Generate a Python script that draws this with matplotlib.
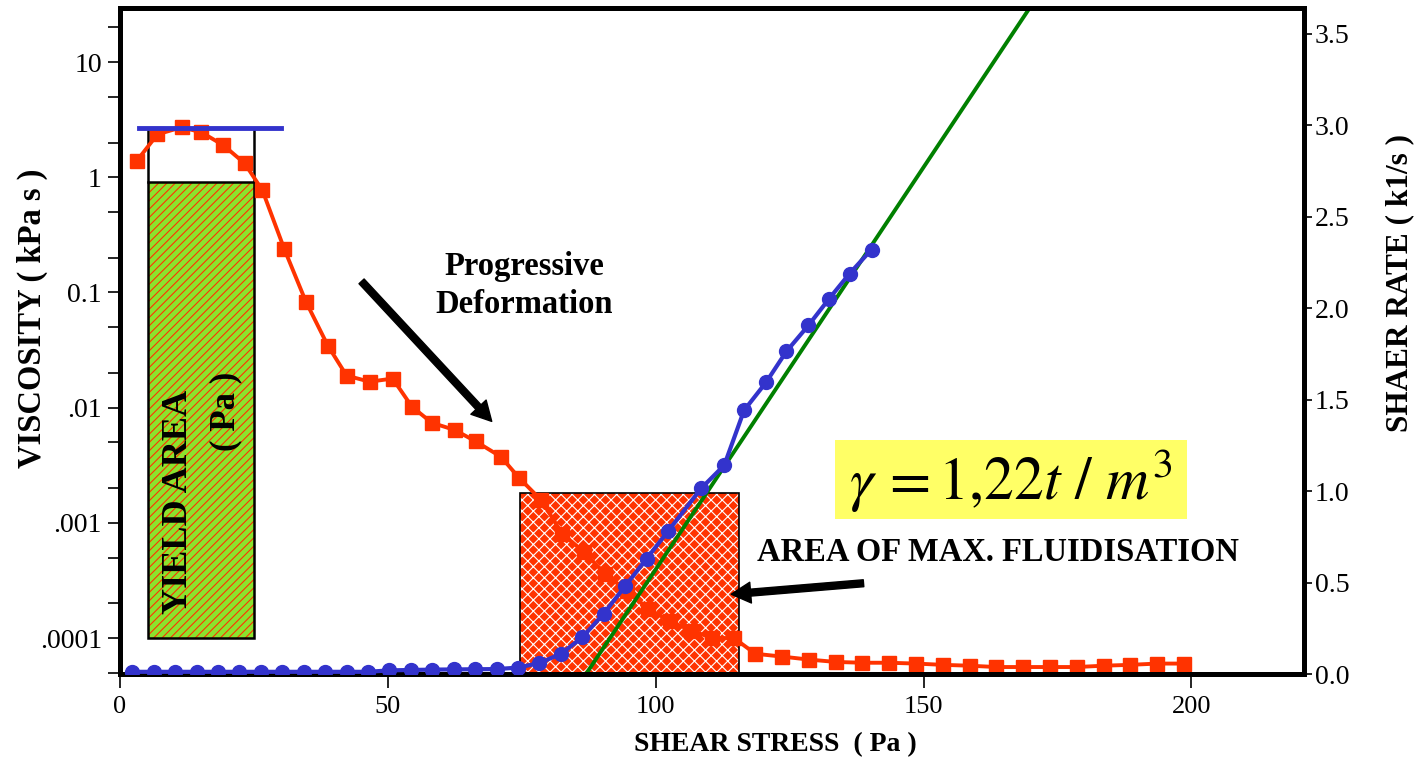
import matplotlib
matplotlib.use('Agg')
import matplotlib.pyplot as plt
from matplotlib.patches import Rectangle
from matplotlib.ticker import NullFormatter

plt.rcParams['font.family'] = ['Liberation Serif', 'DejaVu Serif']
plt.rcParams['mathtext.fontset'] = 'stix'
plt.rcParams['hatch.linewidth'] = 0.8

# viscosity (kPa s) against shear stress (Pa)
visc_x = [3.1, 7.0, 11.5, 15.2, 19.3, 23.3, 26.6, 30.7, 34.7, 38.8,
          42.3, 46.6, 50.9, 54.5, 58.2, 62.5, 66.4, 71.1, 74.5, 78.6,
          82.6, 86.6, 90.6, 94.6, 98.6, 102.6, 106.6, 110.6, 114.6,
          118.6, 123.6, 128.6, 133.6, 138.6, 143.6, 148.6, 153.6, 158.6,
          163.6, 168.6, 173.6, 178.6, 183.6, 188.6, 193.6, 198.6]
visc_y = [1.38, 2.36, 2.72, 2.46, 1.90, 1.32, 0.77, 0.237, 0.0835, 0.0346,
          0.019, 0.0168, 0.0179, 0.0102, 0.0074, 0.0064, 0.0051, 0.00375, 0.00246, 0.00158,
          8.0e-4, 5.6e-4, 3.6e-4, 2.57e-4, 1.79e-4, 1.41e-4, 1.16e-4, 1.0e-4, 1.0e-4,
          7.3e-5, 6.9e-5, 6.5e-5, 6.2e-5, 6.1e-5, 6.1e-5, 6.0e-5, 5.85e-5, 5.75e-5,
          5.6e-5, 5.6e-5, 5.6e-5, 5.6e-5, 5.75e-5, 5.85e-5, 6.0e-5, 6.0e-5]

# shear rate (k1/s) against shear stress (Pa)
rate_x = [2.3, 6.3, 10.3, 14.3, 18.3, 22.3, 26.3, 30.3, 34.3, 38.3,
          42.3, 46.3, 50.3, 54.3, 58.3, 62.3, 66.3, 70.3, 74.3,
          78.3, 82.3, 86.3, 90.3, 94.3, 98.3, 102.3,
          108.5, 112.8, 116.5, 120.6, 124.4, 128.5, 132.4, 136.2, 140.3]
rate_y = [0.012, 0.012, 0.012, 0.012, 0.012, 0.012, 0.012, 0.012, 0.012, 0.012,
          0.012, 0.012, 0.02, 0.022, 0.024, 0.025, 0.026, 0.027, 0.035,
          0.06, 0.11, 0.2, 0.33, 0.48, 0.63, 0.78,
          1.015, 1.141, 1.441, 1.594, 1.763, 1.905, 2.052, 2.189, 2.320]

# linear fit of the flow branch
fit_x = [87.0, 169.8]
fit_y = [0.0, 3.64]

# yield plateau and marked areas
yield_level = 2.66
yield_line_x = [3.5, 30.0]
yield_box_x = [5.2, 25.0]
yield_fill_top = 0.91
yield_fill_bottom = 1e-4
fluid_box_x = [74.7, 115.6]
fluid_box_top = 0.988

visc_ticks = [10, 1, 0.1, 0.01, 0.001, 0.0001]
visc_tick_labels = ['10', '1', '0.1', '.01', '.001', '.0001']
visc_minor = [20, 5, 2, 0.5, 0.2, 0.05, 0.02, 0.005, 0.002,
              5e-4, 2e-4, 5e-5]
rate_ticks = [0.0, 0.5, 1.0, 1.5, 2.0, 2.5, 3.0, 3.5]
stress_ticks = [0, 50, 100, 150, 200]

RED = '#ff3300'
BLUE = '#3333cc'
GREEN = '#008000'

fig = plt.figure(figsize=(14.21, 7.58), dpi=100)
ax = fig.add_axes([0.0844, 0.1108, 0.8332, 0.8786])
ax2 = ax.twinx()

ax.set_yscale('log')
ax.set_xlim(0, 221)
ax.set_ylim(4.87e-5, 29.5)
ax2.set_ylim(0, 3.64)

# area of max. fluidisation (drawn in shear-rate units, under the curves)
ax.add_patch(Rectangle((fluid_box_x[0], 0), fluid_box_x[1] - fluid_box_x[0], fluid_box_top,
                       transform=ax2.transData, facecolor=RED, edgecolor='white',
                       hatch='xxx', lw=0, zorder=1))
ax.add_patch(Rectangle((fluid_box_x[0], 0), fluid_box_x[1] - fluid_box_x[0], fluid_box_top,
                       transform=ax2.transData, fill=False, edgecolor='black',
                       lw=1.2, zorder=1.1))

# yield area
w = yield_box_x[1] - yield_box_x[0]
ax.add_patch(Rectangle((yield_box_x[0], yield_fill_bottom), w, yield_fill_top - yield_fill_bottom,
                       facecolor='#8be32d', edgecolor=RED, hatch='////', lw=0, zorder=1))
ax.add_patch(Rectangle((yield_box_x[0], yield_fill_bottom), w, yield_level - yield_fill_bottom,
                       fill=False, edgecolor='black', lw=1.8, zorder=1.1))
ax.plot(yield_box_x, [yield_fill_top, yield_fill_top], color='black', lw=1.8, zorder=1.1)

ax.plot(visc_x, visc_y, color=RED, lw=2.8, marker='s', ms=10.5, mec=RED, zorder=3)
ax.plot(yield_line_x, [yield_level, yield_level], color=BLUE, lw=3.5, zorder=4)

ax2.plot(fit_x, fit_y, color=GREEN, lw=2.8, zorder=2)
ax2.plot(rate_x, rate_y, color=BLUE, lw=3, marker='o', ms=10, mec=BLUE, zorder=3)

# density box
ax2.add_patch(Rectangle((133.4, 0.846), 65.8, 0.431, facecolor='#ffff66', edgecolor='none', zorder=1))
ax2.text(166.3, 1.06, r'$\gamma\,=1{,}22t\ /\ m^{3}$', fontsize=43, ha='center', va='center', zorder=5)

# axes styling
for a in (ax, ax2):
    for s in a.spines.values():
        s.set_linewidth(3.6)
ax.set_xticks(stress_ticks)
ax.set_yticks(visc_ticks, visc_tick_labels)
ax.set_yticks(visc_minor, minor=True)
ax.yaxis.set_minor_formatter(NullFormatter())
ax.xaxis.set_minor_locator(plt.NullLocator())
ax2.set_yticks(rate_ticks, ['%.1f' % t for t in rate_ticks])

ax.tick_params(axis='x', which='major', direction='out', length=10, width=1.2, labelsize=19, pad=6)
ax.tick_params(axis='y', which='both', direction='out', length=9, width=1.2, labelsize=20, pad=4)
ax2.tick_params(axis='y', direction='out', length=6, width=1.2, labelsize=20, pad=2)

fig.text(32 / 1421, 1 - 318 / 758, 'VISCOSITY ( kPa s )', rotation=90, ha='center', va='center',
         fontsize=23.5, fontweight='bold')
fig.text(1400 / 1421, 1 - 283 / 758, 'SHAER RATE ( k1/s )', rotation=90, ha='center', va='center',
         fontsize=22.5, fontweight='bold')
fig.text(775 / 1421, 1 - 745 / 758, 'SHEAR STRESS  ( Pa )', ha='center', va='center',
         fontsize=20, fontweight='bold')

# annotations
ax.text(10.9, 1.51e-3, 'YIELD AREA', rotation=90, ha='center', va='center',
        fontsize=26, fontweight='bold', zorder=5)
ax.text(19.7, 9.3e-3, '( Pa )', rotation=90, ha='center', va='center',
        fontsize=25, fontweight='bold', zorder=5)
ax.text(75.5, 0.115, 'Progressive\nDeformation', ha='center', va='center',
        fontsize=23.5, fontweight='bold', linespacing=1.3, zorder=5)
ax.annotate('', xy=(69.4, 0.0076), xytext=(45.1, 0.125),
            arrowprops=dict(facecolor='black', edgecolor='black', width=5, headwidth=15, headlength=14),
            zorder=5)
ax.text(163.8, 5.55e-4, 'AREA OF MAX. FLUIDISATION', ha='center', va='center',
        fontsize=23.5, fontweight='bold', zorder=5)
ax.annotate('', xy=(114.1, 2.4e-4), xytext=(138.8, 2.99e-4),
            arrowprops=dict(facecolor='black', edgecolor='black', width=5, headwidth=15, headlength=14),
            zorder=5)

fig.savefig('out.png', dpi=100)
